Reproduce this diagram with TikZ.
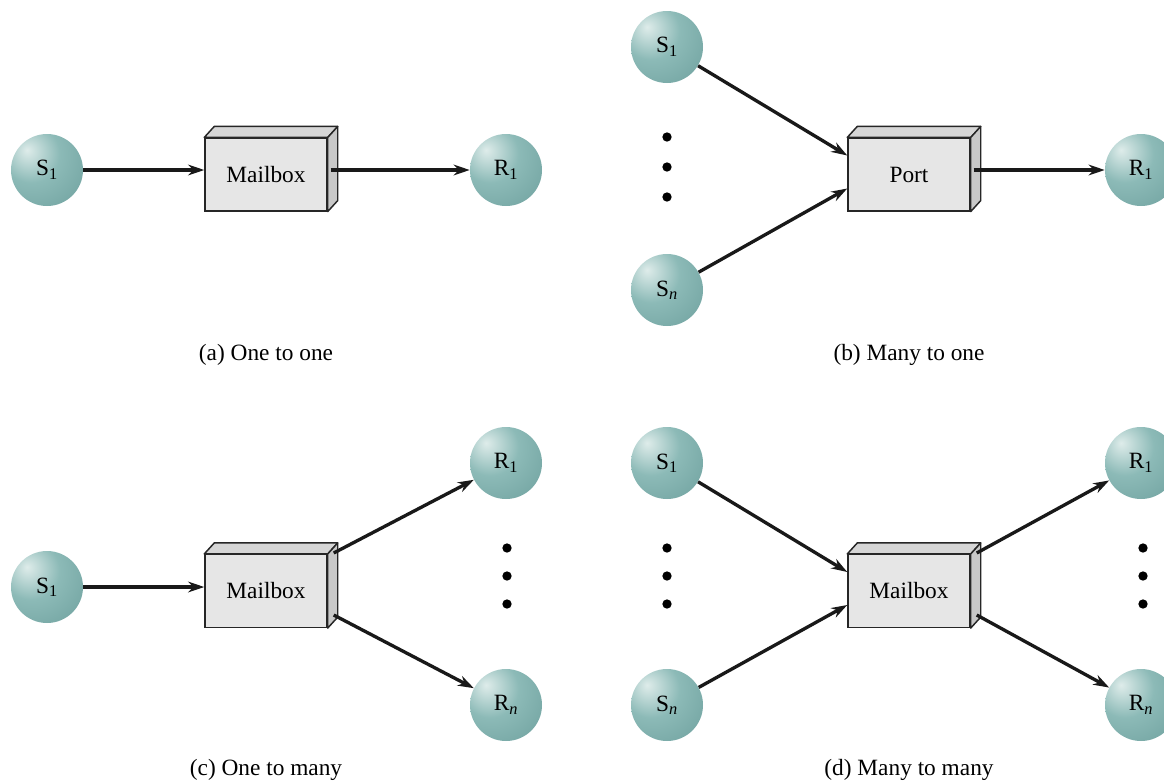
\documentclass[tikz,border=0pt]{standalone}
\usepackage{fontspec}
\setmainfont{Liberation Serif}
\usetikzlibrary{arrows.meta,calc}

\definecolor{sphL}{RGB}{222,236,234}
\definecolor{sphM}{RGB}{140,186,183}
\definecolor{sphD}{RGB}{96,148,146}
\definecolor{boxfront}{RGB}{230,230,230}
\definecolor{boxtop}{RGB}{214,214,214}
\definecolor{boxside}{RGB}{200,200,200}

\pgfdeclareradialshading{sphere}{\pgfpoint{-14bp}{14bp}}{%
  color(0bp)=(sphL); color(20bp)=(sphM); color(60bp)=(sphD); color(100bp)=(sphD)}

\tikzset{
  proc/.style={circle,minimum size=54pt,inner sep=0pt,shading=sphere,
    font=\fontsize{17.5}{20}\selectfont},
  mbox/.style={draw=black!85,line width=1.1pt,fill=boxfront,minimum width=91.5pt,
    minimum height=54.5pt,inner sep=0pt,font=\fontsize{17.5}{20}\selectfont},
  msg/.style={-{Stealth[length=12pt,width=8pt]},line width=2.5pt,black!90},
  dot/.style={circle,fill=black,inner sep=0pt,minimum size=7pt},
  caption/.style={font=\fontsize{17.5}{20}\selectfont}
}

% top and side faces of a box
\newcommand{\boxfaces}[1]{%
  \draw[line width=1.1pt,draw=black!85,fill=boxtop,line join=round] (#1.north west) -- ($(#1.north west)+(10,-11)$)
    -- ($(#1.north east)+(10,-11)$) -- (#1.north east) -- cycle;
  \draw[line width=1.1pt,draw=black!85,fill=boxside,line join=round] (#1.north east) -- ($(#1.north east)+(10,-11)$)
    -- ($(#1.south east)+(10,-11)$) -- (#1.south east) -- cycle;
}

\begin{document}
\begin{tikzpicture}[x=0.75pt,y=-0.75pt]
\useasboundingbox (0,0) rectangle (1164,782);
\clip (0,0) rectangle (1164,782);

% (a) One to one
\node[proc] (sA) at (47,170) {S\textsubscript{1}};
\node[mbox] (mA) at (266,174.5) {Mailbox};
\boxfaces{mA}
\node[proc] (rA) at (506,170) {R\textsubscript{1}};
\draw[msg] (sA) -- (mA.west |- sA);
\draw[msg] ($(mA.east |- rA)+(3,0)$) -- (rA);
\node[caption] (capA) at (266,355) {(a) One to one};

% (b) Many to one
\node[proc] (sB1) at (667,47) {S\textsubscript{1}};
\node[proc] (sBn) at (667,290) {S\textsubscript{\textit{n}}};
\node[dot] (dB1) at (667,137) {};
\node[dot] (dB2) at (667,167) {};
\node[dot] (dB3) at (667,197) {};
\node[mbox] (pB) at (909,174.5) {Port};
\boxfaces{pB}
\node[proc] (rB) at (1141,170) {R\textsubscript{1}};
\coordinate (pBin1) at ($(pB.west)+(0,-19)$);
\coordinate (pBin2) at ($(pB.west)+(0,14)$);
\draw[msg] (sB1) -- (pBin1);
\draw[msg] (sBn) -- (pBin2);
\draw[msg] ($(pB.east |- rB)+(3,0)$) -- (rB);
\node[caption] (capB) at (909,355) {(b) Many to one};

% (c) One to many
\node[proc] (sC) at (47,587) {S\textsubscript{1}};
\node[mbox] (mC) at (266,591) {Mailbox};
\boxfaces{mC}
\node[proc] (rC1) at (506,463) {R\textsubscript{1}};
\node[proc] (rCn) at (506,705) {R\textsubscript{\textit{n}}};
\node[dot] (dC1) at (507,548) {};
\node[dot] (dC2) at (507,576) {};
\node[dot] (dC3) at (507,604) {};
\coordinate (mCout1) at ($(mC.east)+(6,-38)$);
\coordinate (mCout2) at ($(mC.east)+(6,24)$);
\draw[msg] (sC) -- (mC.west |- sC);
\draw[msg] (mCout1) -- (rC1);
\draw[msg] (mCout2) -- (rCn);
\node[caption] (capC) at (266,770) {(c) One to many};

% (d) Many to many
\node[proc] (sD1) at (667,463) {S\textsubscript{1}};
\node[proc] (sDn) at (667,705) {S\textsubscript{\textit{n}}};
\node[dot] (dD1) at (667,548) {};
\node[dot] (dD2) at (667,576) {};
\node[dot] (dD3) at (667,604) {};
\node[mbox] (mD) at (909,591) {Mailbox};
\boxfaces{mD}
\node[proc] (rD1) at (1141,463) {R\textsubscript{1}};
\node[proc] (rDn) at (1141,705) {R\textsubscript{\textit{n}}};
\node[dot] (dD4) at (1143,548) {};
\node[dot] (dD5) at (1143,576) {};
\node[dot] (dD6) at (1143,604) {};
\coordinate (mDin1) at ($(mD.west)+(0,-19)$);
\coordinate (mDin2) at ($(mD.west)+(0,14)$);
\coordinate (mDout1) at ($(mD.east)+(6,-38)$);
\coordinate (mDout2) at ($(mD.east)+(6,24)$);
\draw[msg] (sD1) -- (mDin1);
\draw[msg] (sDn) -- (mDin2);
\draw[msg] (mDout1) -- (rD1);
\draw[msg] (mDout2) -- (rDn);
\node[caption] (capD) at (909,770) {(d) Many to many};

\end{tikzpicture}
\end{document}
